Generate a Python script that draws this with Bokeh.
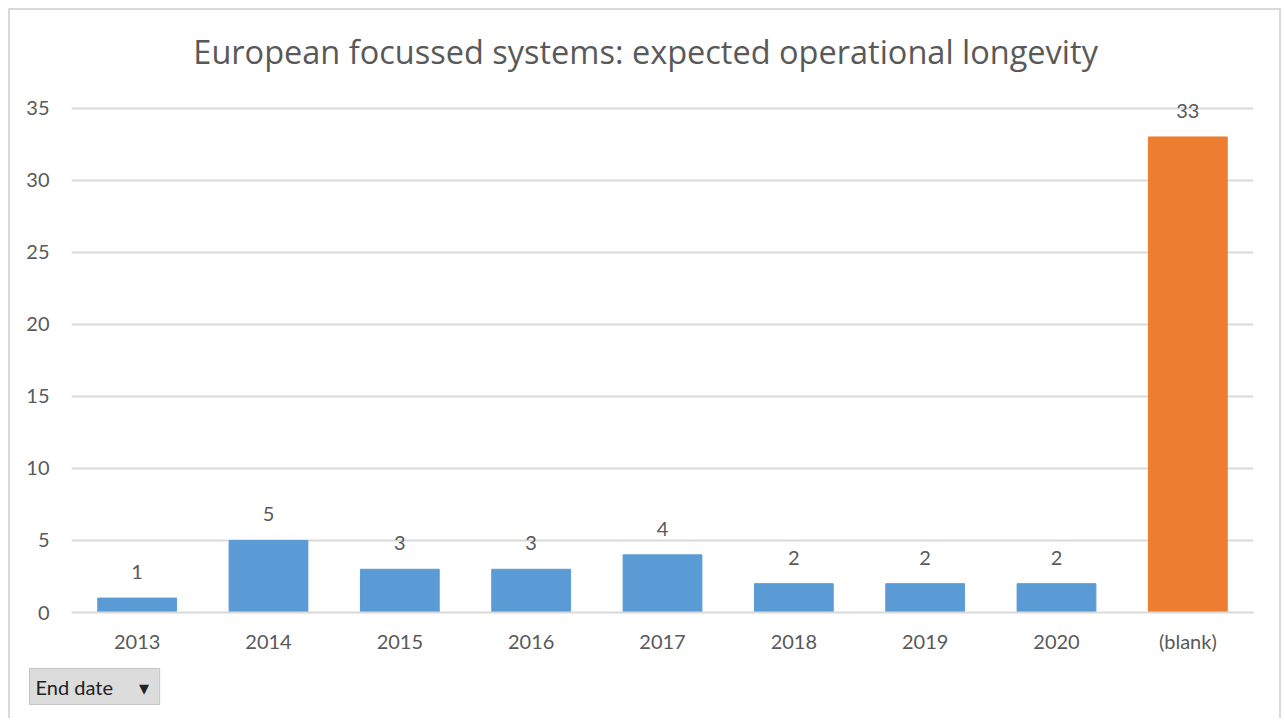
from bokeh.plotting import figure
from bokeh.models import ColumnDataSource, LabelSet, Title, FixedTicker
from bokeh.core.properties import value
from bokeh.embed import file_html
from bokeh.resources import INLINE

categories = ["2013", "2014", "2015", "2016", "2017", "2018", "2019", "2020", "(blank)"]
counts = [1, 5, 3, 3, 4, 2, 2, 2, 33]
bar_colors = ["#5B9BD5"] * 8 + ["#ED7D31"]
y_ticks = [0, 5, 10, 15, 20, 25, 30, 35]
title_text = "European focussed systems: expected operational longevity"
button_text = "End date"

FONT = "Lato"
GREY = "#595959"
NB = "\u00a0"

src = ColumnDataSource(dict(cat=categories, n=counts, color=bar_colors,
                            lab=[str(v) for v in counts]))

p = figure(x_range=categories, y_range=(0, 36.5), width=1273, height=710,
           output_backend="svg", toolbar_location=None,
           min_border_left=61, min_border_right=30, min_border_top=76,
           min_border_bottom=108)
p.styles = {"margin-left": "8px", "margin-top": "8px",
            "border-top": "2px solid #D9D9D9", "border-left": "2px solid #D9D9D9",
            "border-right": "2px solid #D9D9D9"}

p.vbar(x="cat", top="n", width=0.6, color="color", source=src)

p.add_layout(LabelSet(x="cat", y="n", text="lab", source=src, text_align="center",
                      text_baseline="alphabetic", y_offset=19, text_font=value(FONT),
                      text_font_size="20px", text_color=GREY))

p.outline_line_color = None
p.xgrid.grid_line_color = None
p.ygrid.grid_line_color = "#D9D9D9"
p.ygrid.grid_line_width = 2
p.yaxis.ticker = FixedTicker(ticks=y_ticks)
p.yaxis.axis_line_color = None
p.yaxis.major_tick_line_color = None
p.yaxis.minor_tick_line_color = None
p.yaxis.major_label_standoff = 16
p.xaxis.axis_line_color = "#D9D9D9"
p.xaxis.axis_line_width = 2
p.xaxis.major_tick_line_color = None
p.xaxis.major_label_standoff = 10
for ax in (p.xaxis, p.yaxis):
    ax.major_label_text_font = FONT
    ax.major_label_text_font_size = "20px"
    ax.major_label_text_color = GREY

# trailing no-break spaces shift the centred title left onto the chart-area centre
p.title.text = title_text + NB * 4
p.title.align = "center"
p.title.vertical_align = "bottom"
p.title.standoff = 26
p.title.text_font = "Open Sans"
p.title.text_font_size = "32.5px"
p.title.text_font_style = "normal"
p.title.text_color = GREY

btn = Title(text=button_text + NB * 5 + "\u25BE" + NB, align="left", offset=-42,
            vertical_align="top", standoff=26, text_font=FONT,
            text_font_size="20px", text_font_style="normal", text_color="#222222",
            background_fill_color="#DCDCDC", border_line_color="#C4C4C4", padding=6)
p.add_layout(btn, "below")

open("out.html", "w").write(file_html(p, INLINE))
